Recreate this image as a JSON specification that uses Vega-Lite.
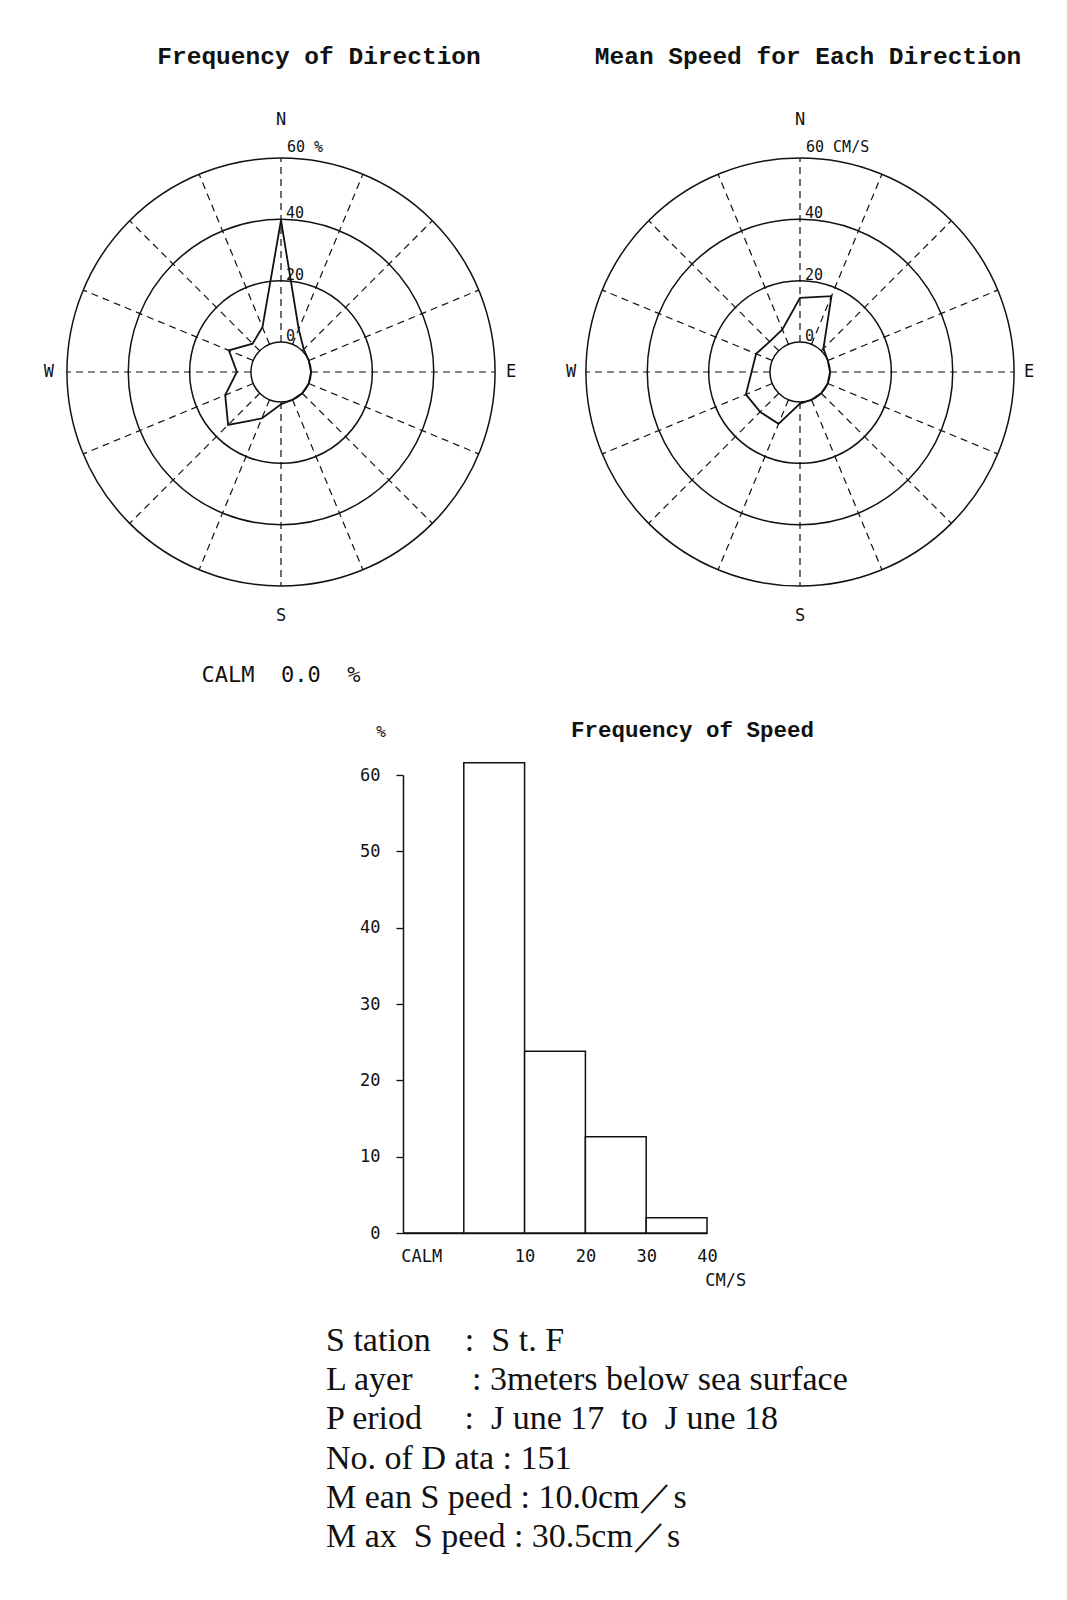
{
  "$schema": "https://vega.github.io/schema/vega-lite/v6.json",
  "background": "white",
  "padding": {"left": 43, "top": 44, "right": 0, "bottom": 0},
  "bounds": "flush",
  "center": true,
  "spacing": 97,
  "config": {"view": {"stroke": null}},
  "datasets": {
    "dirs": [
      {"dir": "N", "deg": 0, "pct": 39.7, "speed": 14.4},
      {"dir": "NNE", "deg": 22.5, "pct": 5.3, "speed": 17.0},
      {"dir": "NE", "deg": 45, "pct": 0.7, "speed": 1.0},
      {"dir": "ENE", "deg": 67.5, "pct": 0, "speed": 0},
      {"dir": "E", "deg": 90, "pct": 0, "speed": 0},
      {"dir": "ESE", "deg": 112.5, "pct": 0, "speed": 0},
      {"dir": "SE", "deg": 135, "pct": 0, "speed": 0},
      {"dir": "SSE", "deg": 157.5, "pct": 0, "speed": 0},
      {"dir": "S", "deg": 180, "pct": 0.7, "speed": 0.5},
      {"dir": "SSW", "deg": 202.5, "pct": 6.6, "speed": 8.5},
      {"dir": "SW", "deg": 225, "pct": 14.6, "speed": 8.6},
      {"dir": "WSW", "deg": 247.5, "pct": 9.9, "speed": 9.3},
      {"dir": "W", "deg": 270, "pct": 4.6, "speed": 6.0},
      {"dir": "WNW", "deg": 292.5, "pct": 8.6, "speed": 5.7},
      {"dir": "NW", "deg": 315, "pct": 3.3, "speed": 4.2},
      {"dir": "NNW", "deg": 337.5, "pct": 6.0, "speed": 5.2}
    ],
    "rings": [
      {"ring": 0, "freqLabel": "0", "speedLabel": "0"},
      {"ring": 20, "freqLabel": "20", "speedLabel": "20"},
      {"ring": 40, "freqLabel": "40", "speedLabel": "40"},
      {"ring": 60, "freqLabel": "60 %", "speedLabel": "60 CM/S"}
    ],
    "calm": [{"label": "CALM", "pct": 0.0}],
    "speedBins": [
      {"bin": "CALM", "lo": -10, "hi": 0, "pct": 0.0},
      {"bin": "0-10", "lo": 0, "hi": 10, "pct": 61.6},
      {"bin": "10-20", "lo": 10, "hi": 20, "pct": 23.8},
      {"bin": "20-30", "lo": 20, "hi": 30, "pct": 12.6},
      {"bin": "30-40", "lo": 30, "hi": 40, "pct": 2.0}
    ],
    "info": [
      {"line": 1, "text": "S tation\u00a0\u00a0\u00a0\u00a0:\u00a0\u00a0S t. F"},
      {"line": 2, "text": "L ayer\u00a0\u00a0\u00a0\u00a0\u00a0\u00a0\u00a0: 3meters below sea surface"},
      {"line": 3, "text": "P eriod\u00a0\u00a0\u00a0\u00a0\u00a0:\u00a0\u00a0J une 17\u00a0 to\u00a0 J une 18"},
      {"line": 4, "text": "No. of D ata : 151"},
      {"line": 5, "text": "M ean S peed : 10.0cm\uff0fs"},
      {"line": 6, "text": "M ax\u00a0\u00a0S peed : 30.5cm\uff0fs"}
    ]
  },
  "vconcat": [
    {
      "width": 976,
      "height": 520,
      "resolve": {"scale": {"x": "independent"}},
      "layer": [
        {
          "layer": [
            {
              "data": {"name": "rings"},
              "mark": {"type": "arc", "filled": false, "color": "#111", "strokeWidth": 1.5},
              "encoding": {
                "x": {"datum": 0, "type": "quantitative", "scale": {"domain": [-69.8, 69.8], "range": [0, 428], "nice": false, "zero": false}, "axis": null},
                "y": {"datum": 0, "type": "quantitative", "scale": {"domain": [-99.8, 69.8], "nice": false, "zero": false}, "axis": null},
                "theta": {"datum": 0, "type": "quantitative", "scale": {"domain": [0, 360], "range": [0, 6.2832]}},
                "theta2": {"datum": 360},
                "radius": {"field": "ring", "type": "quantitative", "scale": {"type": "linear", "domain": [-9.8, 60], "range": [0, 214], "nice": false, "zero": false}, "legend": null},
                "radius2": {"datum": -9.8}
              }
            },
            {
              "data": {"name": "dirs"},
              "transform": [
                {"calculate": "9.8 * sin(datum.deg * PI / 180)", "as": "x1"},
                {"calculate": "9.8 * cos(datum.deg * PI / 180)", "as": "y1"},
                {"calculate": "69.8 * sin(datum.deg * PI / 180)", "as": "x2"},
                {"calculate": "69.8 * cos(datum.deg * PI / 180)", "as": "y2"}
              ],
              "mark": {"type": "rule", "color": "#111", "strokeWidth": 1.2, "strokeDash": [7, 5]},
              "encoding": {
                "x": {"field": "x1", "type": "quantitative", "scale": {"domain": [-69.8, 69.8], "range": [0, 428], "nice": false, "zero": false}, "axis": null},
                "y": {"field": "y1", "type": "quantitative", "scale": {"domain": [-99.8, 69.8], "nice": false, "zero": false}, "axis": null},
                "x2": {"field": "x2"},
                "y2": {"field": "y2"}
              }
            },
            {
              "data": {"name": "dirs"},
              "transform": [
                {"calculate": "(datum.pct + 9.8) * sin(datum.deg * PI / 180)", "as": "px"},
                {"calculate": "(datum.pct + 9.8) * cos(datum.deg * PI / 180)", "as": "py"}
              ],
              "mark": {"type": "line", "interpolate": "linear-closed", "color": "#111", "strokeWidth": 1.8},
              "encoding": {
                "x": {"field": "px", "type": "quantitative", "scale": {"domain": [-69.8, 69.8], "range": [0, 428], "nice": false, "zero": false}, "axis": null},
                "y": {"field": "py", "type": "quantitative", "scale": {"domain": [-99.8, 69.8], "nice": false, "zero": false}, "axis": null},
                "order": {"field": "deg", "type": "quantitative"}
              }
            },
            {
              "data": {"name": "rings"},
              "transform": [{"filter": "datum.ring < 60"}, {"calculate": "datum.ring + 9.8", "as": "ry"}],
              "mark": {"type": "text", "align": "left", "baseline": "alphabetic", "dx": 5, "dy": -1, "font": "DejaVu Sans Mono", "fontSize": 15, "color": "#111"},
              "encoding": {
                "x": {"datum": 0, "type": "quantitative", "scale": {"domain": [-69.8, 69.8], "range": [0, 428], "nice": false, "zero": false}, "axis": null},
                "y": {"field": "ry", "type": "quantitative", "scale": {"domain": [-99.8, 69.8], "nice": false, "zero": false}, "axis": null},
                "text": {"field": "freqLabel"}
              }
            },
            {
              "data": {"name": "rings"},
              "transform": [{"filter": "datum.ring == 60"}, {"calculate": "datum.ring + 9.8", "as": "ry"}],
              "mark": {"type": "text", "align": "left", "baseline": "alphabetic", "dx": 6, "dy": -6, "font": "DejaVu Sans Mono", "fontSize": 15, "color": "#111"},
              "encoding": {
                "x": {"datum": 0, "type": "quantitative", "scale": {"domain": [-69.8, 69.8], "range": [0, 428], "nice": false, "zero": false}, "axis": null},
                "y": {"field": "ry", "type": "quantitative", "scale": {"domain": [-99.8, 69.8], "nice": false, "zero": false}, "axis": null},
                "text": {"field": "freqLabel"}
              }
            },
            {
              "data": {"values": [{"t": "N"}]},
              "mark": {"type": "text", "align": "center", "baseline": "alphabetic", "font": "DejaVu Sans Mono", "fontSize": 17, "color": "#111"},
              "encoding": {
                "x": {"datum": 0, "type": "quantitative", "scale": {"domain": [-69.8, 69.8], "range": [0, 428], "nice": false, "zero": false}, "axis": null},
                "y": {"datum": 80.7, "type": "quantitative", "scale": {"domain": [-99.8, 69.8], "nice": false, "zero": false}, "axis": null},
                "text": {"field": "t"}
              }
            },
            {
              "data": {"values": [{"t": "S"}]},
              "mark": {"type": "text", "align": "center", "baseline": "alphabetic", "font": "DejaVu Sans Mono", "fontSize": 17, "color": "#111"},
              "encoding": {
                "x": {"datum": 0, "type": "quantitative", "scale": {"domain": [-69.8, 69.8], "range": [0, 428], "nice": false, "zero": false}, "axis": null},
                "y": {"datum": -81.3, "type": "quantitative", "scale": {"domain": [-99.8, 69.8], "nice": false, "zero": false}, "axis": null},
                "text": {"field": "t"}
              }
            },
            {
              "data": {"values": [{"t": "E"}]},
              "mark": {"type": "text", "align": "left", "baseline": "middle", "font": "DejaVu Sans Mono", "fontSize": 17, "color": "#111"},
              "encoding": {
                "x": {"datum": 73.4, "type": "quantitative", "scale": {"domain": [-69.8, 69.8], "range": [0, 428], "nice": false, "zero": false}, "axis": null},
                "y": {"datum": 0, "type": "quantitative", "scale": {"domain": [-99.8, 69.8], "nice": false, "zero": false}, "axis": null},
                "text": {"field": "t"}
              }
            },
            {
              "data": {"values": [{"t": "W"}]},
              "mark": {"type": "text", "align": "right", "baseline": "middle", "font": "DejaVu Sans Mono", "fontSize": 17, "color": "#111"},
              "encoding": {
                "x": {"datum": -74, "type": "quantitative", "scale": {"domain": [-69.8, 69.8], "range": [0, 428], "nice": false, "zero": false}, "axis": null},
                "y": {"datum": 0, "type": "quantitative", "scale": {"domain": [-99.8, 69.8], "nice": false, "zero": false}, "axis": null},
                "text": {"field": "t"}
              }
            },
            {
              "data": {"values": [{"t": "Frequency of Direction"}]},
              "mark": {"type": "text", "align": "center", "baseline": "alphabetic", "font": "Liberation Mono", "fontSize": 24.5, "fontWeight": "bold", "color": "#111"},
              "encoding": {
                "x": {"datum": 12.4, "type": "quantitative", "scale": {"domain": [-69.8, 69.8], "range": [0, 428], "nice": false, "zero": false}, "axis": null},
                "y": {"datum": 100.3, "type": "quantitative", "scale": {"domain": [-99.8, 69.8], "nice": false, "zero": false}, "axis": null},
                "text": {"field": "t"}
              }
            },
            {
              "data": {"name": "calm"},
              "transform": [{"calculate": "datum.label + '\u00a0\u00a0' + format(datum.pct, '.1f') + '\u00a0\u00a0%'", "as": "txt"}],
              "mark": {"type": "text", "align": "center", "baseline": "alphabetic", "font": "DejaVu Sans Mono", "fontSize": 22, "color": "#111"},
              "encoding": {
                "x": {"datum": 0, "type": "quantitative", "scale": {"domain": [-69.8, 69.8], "range": [0, 428], "nice": false, "zero": false}, "axis": null},
                "y": {"datum": -101.1, "type": "quantitative", "scale": {"domain": [-99.8, 69.8], "nice": false, "zero": false}, "axis": null},
                "text": {"field": "txt"}
              }
            }
          ]
        },
        {
          "layer": [
            {
              "data": {"name": "rings"},
              "mark": {"type": "arc", "filled": false, "color": "#111", "strokeWidth": 1.5},
              "encoding": {
                "x": {"datum": 0, "type": "quantitative", "scale": {"domain": [-69.8, 69.8], "range": [519, 947], "nice": false, "zero": false}, "axis": null},
                "y": {"datum": 0, "type": "quantitative", "scale": {"domain": [-99.8, 69.8], "nice": false, "zero": false}, "axis": null},
                "theta": {"datum": 0, "type": "quantitative", "scale": {"domain": [0, 360], "range": [0, 6.2832]}},
                "theta2": {"datum": 360},
                "radius": {"field": "ring", "type": "quantitative", "scale": {"type": "linear", "domain": [-9.8, 60], "range": [0, 214], "nice": false, "zero": false}, "legend": null},
                "radius2": {"datum": -9.8}
              }
            },
            {
              "data": {"name": "dirs"},
              "transform": [
                {"calculate": "9.8 * sin(datum.deg * PI / 180)", "as": "x1"},
                {"calculate": "9.8 * cos(datum.deg * PI / 180)", "as": "y1"},
                {"calculate": "69.8 * sin(datum.deg * PI / 180)", "as": "x2"},
                {"calculate": "69.8 * cos(datum.deg * PI / 180)", "as": "y2"}
              ],
              "mark": {"type": "rule", "color": "#111", "strokeWidth": 1.2, "strokeDash": [7, 5]},
              "encoding": {
                "x": {"field": "x1", "type": "quantitative", "scale": {"domain": [-69.8, 69.8], "range": [519, 947], "nice": false, "zero": false}, "axis": null},
                "y": {"field": "y1", "type": "quantitative", "scale": {"domain": [-99.8, 69.8], "nice": false, "zero": false}, "axis": null},
                "x2": {"field": "x2"},
                "y2": {"field": "y2"}
              }
            },
            {
              "data": {"name": "dirs"},
              "transform": [
                {"calculate": "(datum.speed + 9.8) * sin(datum.deg * PI / 180)", "as": "px"},
                {"calculate": "(datum.speed + 9.8) * cos(datum.deg * PI / 180)", "as": "py"}
              ],
              "mark": {"type": "line", "interpolate": "linear-closed", "color": "#111", "strokeWidth": 1.8},
              "encoding": {
                "x": {"field": "px", "type": "quantitative", "scale": {"domain": [-69.8, 69.8], "range": [519, 947], "nice": false, "zero": false}, "axis": null},
                "y": {"field": "py", "type": "quantitative", "scale": {"domain": [-99.8, 69.8], "nice": false, "zero": false}, "axis": null},
                "order": {"field": "deg", "type": "quantitative"}
              }
            },
            {
              "data": {"name": "rings"},
              "transform": [{"filter": "datum.ring < 60"}, {"calculate": "datum.ring + 9.8", "as": "ry"}],
              "mark": {"type": "text", "align": "left", "baseline": "alphabetic", "dx": 5, "dy": -1, "font": "DejaVu Sans Mono", "fontSize": 15, "color": "#111"},
              "encoding": {
                "x": {"datum": 0, "type": "quantitative", "scale": {"domain": [-69.8, 69.8], "range": [519, 947], "nice": false, "zero": false}, "axis": null},
                "y": {"field": "ry", "type": "quantitative", "scale": {"domain": [-99.8, 69.8], "nice": false, "zero": false}, "axis": null},
                "text": {"field": "speedLabel"}
              }
            },
            {
              "data": {"name": "rings"},
              "transform": [{"filter": "datum.ring == 60"}, {"calculate": "datum.ring + 9.8", "as": "ry"}],
              "mark": {"type": "text", "align": "left", "baseline": "alphabetic", "dx": 6, "dy": -6, "font": "DejaVu Sans Mono", "fontSize": 15, "color": "#111"},
              "encoding": {
                "x": {"datum": 0, "type": "quantitative", "scale": {"domain": [-69.8, 69.8], "range": [519, 947], "nice": false, "zero": false}, "axis": null},
                "y": {"field": "ry", "type": "quantitative", "scale": {"domain": [-99.8, 69.8], "nice": false, "zero": false}, "axis": null},
                "text": {"field": "speedLabel"}
              }
            },
            {
              "data": {"values": [{"t": "N"}]},
              "mark": {"type": "text", "align": "center", "baseline": "alphabetic", "font": "DejaVu Sans Mono", "fontSize": 17, "color": "#111"},
              "encoding": {
                "x": {"datum": 0, "type": "quantitative", "scale": {"domain": [-69.8, 69.8], "range": [519, 947], "nice": false, "zero": false}, "axis": null},
                "y": {"datum": 80.7, "type": "quantitative", "scale": {"domain": [-99.8, 69.8], "nice": false, "zero": false}, "axis": null},
                "text": {"field": "t"}
              }
            },
            {
              "data": {"values": [{"t": "S"}]},
              "mark": {"type": "text", "align": "center", "baseline": "alphabetic", "font": "DejaVu Sans Mono", "fontSize": 17, "color": "#111"},
              "encoding": {
                "x": {"datum": 0, "type": "quantitative", "scale": {"domain": [-69.8, 69.8], "range": [519, 947], "nice": false, "zero": false}, "axis": null},
                "y": {"datum": -81.1, "type": "quantitative", "scale": {"domain": [-99.8, 69.8], "nice": false, "zero": false}, "axis": null},
                "text": {"field": "t"}
              }
            },
            {
              "data": {"values": [{"t": "E"}]},
              "mark": {"type": "text", "align": "left", "baseline": "middle", "font": "DejaVu Sans Mono", "fontSize": 17, "color": "#111"},
              "encoding": {
                "x": {"datum": 73.1, "type": "quantitative", "scale": {"domain": [-69.8, 69.8], "range": [519, 947], "nice": false, "zero": false}, "axis": null},
                "y": {"datum": 0, "type": "quantitative", "scale": {"domain": [-99.8, 69.8], "nice": false, "zero": false}, "axis": null},
                "text": {"field": "t"}
              }
            },
            {
              "data": {"values": [{"t": "W"}]},
              "mark": {"type": "text", "align": "right", "baseline": "middle", "font": "DejaVu Sans Mono", "fontSize": 17, "color": "#111"},
              "encoding": {
                "x": {"datum": -73, "type": "quantitative", "scale": {"domain": [-69.8, 69.8], "range": [519, 947], "nice": false, "zero": false}, "axis": null},
                "y": {"datum": 0, "type": "quantitative", "scale": {"domain": [-99.8, 69.8], "nice": false, "zero": false}, "axis": null},
                "text": {"field": "t"}
              }
            },
            {
              "data": {"values": [{"t": "Mean Speed for Each Direction"}]},
              "mark": {"type": "text", "align": "center", "baseline": "alphabetic", "font": "Liberation Mono", "fontSize": 24.5, "fontWeight": "bold", "color": "#111"},
              "encoding": {
                "x": {"datum": 2.6, "type": "quantitative", "scale": {"domain": [-69.8, 69.8], "range": [519, 947], "nice": false, "zero": false}, "axis": null},
                "y": {"datum": 100.3, "type": "quantitative", "scale": {"domain": [-99.8, 69.8], "nice": false, "zero": false}, "axis": null},
                "text": {"field": "t"}
              }
            }
          ]
        }
      ]
    },
    {
      "width": 304,
      "height": 458,
      "layer": [
        {
          "data": {"name": "speedBins"},
          "mark": {"type": "rect", "fill": "white", "stroke": "#111", "strokeWidth": 1.5},
          "encoding": {
            "x": {
              "field": "lo", "type": "quantitative",
              "scale": {"domain": [-10, 40], "nice": false, "zero": false},
              "axis": {"values": [-7, 10, 20, 30, 40], "labelExpr": "datum.value == -7 ? 'CALM' : datum.label", "ticks": false, "tickSize": 0, "labelPadding": 15, "domainColor": "#111", "domainWidth": 1.5, "grid": false, "title": null, "labelFont": "DejaVu Sans Mono", "labelFontSize": 17, "labelColor": "#111", "labelFlush": false, "labelOverlap": false}
            },
            "x2": {"field": "hi"},
            "y": {
              "field": "pct", "type": "quantitative",
              "scale": {"domain": [0, 60], "nice": false, "zero": true},
              "axis": {"values": [0, 10, 20, 30, 40, 50, 60], "tickSize": 7, "tickColor": "#111", "tickWidth": 1.3, "labelPadding": 16, "domainColor": "#111", "domainWidth": 1.5, "grid": false, "title": null, "labelFont": "DejaVu Sans Mono", "labelFontSize": 17, "labelColor": "#111", "labelFlush": false, "labelOverlap": false}
            },
            "y2": {"datum": 0}
          }
        },
        {
          "data": {"values": [{"t": "Frequency of Speed"}]},
          "mark": {"type": "text", "align": "center", "baseline": "alphabetic", "font": "Liberation Mono", "fontSize": 22.5, "fontWeight": "bold", "color": "#111"},
          "encoding": {
            "x": {"datum": 37.6, "type": "quantitative"},
            "y": {"datum": 65.0, "type": "quantitative"},
            "text": {"field": "t"}
          }
        },
        {
          "data": {"values": [{"t": "%"}]},
          "mark": {"type": "text", "align": "center", "baseline": "alphabetic", "font": "DejaVu Sans Mono", "fontSize": 16, "color": "#111"},
          "encoding": {
            "x": {"datum": -13.6, "type": "quantitative"},
            "y": {"datum": 65.0, "type": "quantitative"},
            "text": {"field": "t"}
          }
        },
        {
          "data": {"values": [{"t": "CM/S"}]},
          "mark": {"type": "text", "align": "left", "baseline": "alphabetic", "font": "DejaVu Sans Mono", "fontSize": 17, "color": "#111"},
          "encoding": {
            "x": {"datum": 39.7, "type": "quantitative"},
            "y": {"datum": -6.9, "type": "quantitative"},
            "text": {"field": "t"}
          }
        }
      ]
    },
    {
      "width": 458,
      "height": 238,
      "data": {"name": "info"},
      "mark": {"type": "text", "align": "left", "baseline": "alphabetic", "font": "Liberation Serif", "fontSize": 34, "color": "#111"},
      "encoding": {
        "y": {"field": "line", "type": "ordinal", "axis": null, "scale": {"padding": 0.525}},
        "x": {"datum": 0, "type": "quantitative", "scale": {"domain": [0, 1]}, "axis": null},
        "text": {"field": "text"}
      }
    }
  ]
}
